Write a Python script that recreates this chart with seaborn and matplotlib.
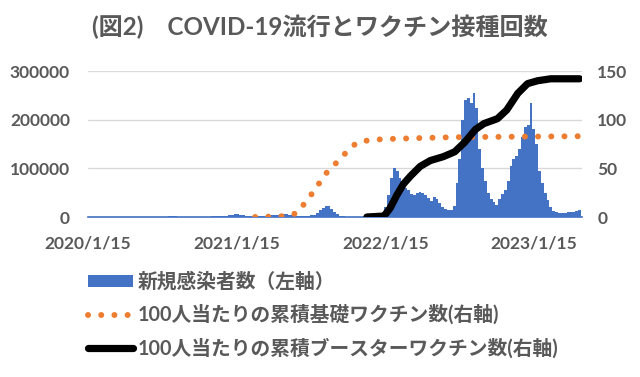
import pandas as pd
import matplotlib
matplotlib.use("Agg")
import matplotlib.pyplot as plt
from matplotlib.patches import Patch
from matplotlib.lines import Line2D
import seaborn as sns

# ── Data ────────────────────────────────────────────────────────────────────
# new infections, one value per week, weeks starting 2020-01-16
case_start = "2020-01-16"
cases_2020 = [1, 2, 3, 3, 5, 10, 15, 30, 40, 40, 100, 250, 500, 550, 350, 200,
              100, 50, 30, 30, 40, 50, 60, 90, 150, 300, 550, 800, 1200,
              1400, 1100, 900, 700, 550, 550, 500, 450, 500, 550, 550, 600, 650,
              900, 1500, 2200, 2300, 2400, 2700, 2900, 3400, 4200]
cases_2021 = [6500, 6000, 4500, 3200, 2200, 1600, 1300, 1100, 1100, 1200, 1400, 1800,
              2500, 3400, 4200, 5000, 5200, 5500, 6000, 5000, 3700, 2800, 2000, 1600, 1600,
              1800, 2300, 3200, 5000, 9000, 14000, 18000, 23000, 22000,
              17000, 11000, 5500, 3000, 1500, 800, 500, 300, 250,
              200, 160, 130, 120, 120, 130, 170, 250, 400]
cases_2022 = [5000, 20000, 45000, 80000, 100000, 95000, 80000, 68000,
              60000, 55000, 48000, 45000, 50000, 52000, 50000, 46000, 40000,
              32000, 42000, 36000, 28000, 20000, 16000, 14000, 14000, 22000,
              70000, 120000, 200000, 240000, 245000, 235000, 255000, 225000,
              140000, 100000, 75000, 50000, 38000, 30000, 25000, 38000, 48000,
              55000, 75000, 105000, 120000, 125000, 140000, 165000, 185000, 190000]
cases_2023 = [235000, 180000, 150000, 95000, 70000, 50000, 35000, 20000,
              13000, 10000, 9000, 8500, 9000, 9500, 10000, 11000, 12000, 14000]
cases = cases_2020 + cases_2021 + cases_2022 + cases_2023

# cumulative primary vaccinations per 100 people
basic_dates = ["2021-03-01", "2021-04-19", "2021-05-16", "2021-06-12", "2021-06-27",
               "2021-07-12", "2021-07-29", "2021-08-10", "2021-08-25", "2021-09-14",
               "2021-10-01", "2021-10-18", "2021-11-09", "2021-12-09", "2022-01-10",
               "2022-04-01", "2022-07-01", "2023-05-08"]
basic_per100 = [0, 0.5, 1, 4, 12, 20.5, 29, 38, 46, 54.5,
                61.5, 70, 77, 79, 80, 81, 82, 83]

# cumulative booster vaccinations per 100 people
booster_dates = ["2021-12-01", "2022-01-12", "2022-01-27", "2022-02-12", "2022-03-01",
                 "2022-03-18", "2022-04-11", "2022-05-06", "2022-06-07", "2022-07-05",
                 "2022-07-30", "2022-08-25", "2022-09-15", "2022-10-18", "2022-11-10",
                 "2022-12-07", "2022-12-31", "2023-01-25", "2023-02-26", "2023-05-08"]
booster_per100 = [0, 1, 9, 22, 34, 42, 52, 58, 62, 67,
                  77, 90, 96, 101, 110, 127, 137, 140, 142, 142]

tick_dates = ["2020-01-15", "2021-01-15", "2022-01-15", "2023-01-15"]
tick_labels = ["2020/1/15", "2021/1/15", "2022/1/15", "2023/1/15"]
left_ticks = [0, 100000, 200000, 300000]
right_ticks = [0, 50, 100, 150]

title = "(図2)　COVID-19流行とワクチン接種回数"
legend_labels = ["新規感染者数（左軸）",
                 "100人当たりの累積基礎ワクチン数(右軸)",
                 "100人当たりの累積ブースターワクチン数(右軸)"]

# ── Style ───────────────────────────────────────────────────────────────────
sns.set_theme(style="white")
plt.rcParams['font.family'] = ['Lato', 'Noto Sans CJK JP']
plt.rcParams['font.weight'] = 'bold'
GRAY = '#595959'
BLUE = '#4472C4'
ORANGE = '#ED7D31'
DOTS = (0, (0.01, 2.2))

fig = plt.figure(figsize=(6.4, 3.77), dpi=100)
fig.patch.set_facecolor('white')
ax = fig.add_axes([88 / 640, 160 / 377, 494 / 640, 146 / 377])

# bars: weekly new cases
weeks = pd.date_range(case_start, periods=len(cases), freq="7D")
ax.bar(weeks, cases, width=7, align='edge', color=BLUE, linewidth=0, zorder=2)
ax.set_ylim(0, 300000)
ax.set_yticks(left_ticks)
ax.set_yticklabels([str(v) for v in left_ticks])
ax.yaxis.grid(True, color='#D9D9D9', lw=1)
ax.set_axisbelow(True)
for s in ['top', 'left', 'right']:
    ax.spines[s].set_visible(False)
ax.spines['bottom'].set_color(BLUE)
ax.spines['bottom'].set_linewidth(1.2)
ax.tick_params(axis='y', length=0, pad=13, labelsize=12.5, labelcolor=GRAY)
ax.tick_params(axis='x', length=3, color='#BFBFBF', pad=10, labelsize=12.5, labelcolor=GRAY)

# lines: vaccinations on right axis
ax2 = ax.twinx()
sns.lineplot(x=pd.to_datetime(basic_dates), y=basic_per100, ax=ax2,
             color=ORANGE, lw=4.3)
ax2.lines[-1].set_linestyle(DOTS)
ax2.lines[-1].set_dash_capstyle('round')
sns.lineplot(x=pd.to_datetime(booster_dates), y=booster_per100, ax=ax2,
             color='black', lw=5.2)
ax2.set_ylim(0, 150)
ax2.set_yticks(right_ticks)
ax2.grid(False)
for s in ax2.spines.values():
    s.set_visible(False)
ax2.tick_params(axis='y', length=0, pad=11, labelsize=12.5, labelcolor=GRAY)
ax2.set_xlabel('')
ax2.set_ylabel('')

ax.set_xlim(pd.Timestamp("2020-01-15"), pd.Timestamp("2023-05-14"))
ax.set_xticks(pd.to_datetime(tick_dates))
ax.set_xticklabels(tick_labels)

fig.text(0.5, 1 - 27 / 377, title, ha='center', va='center',
         fontsize=17.4, color=GRAY, fontweight='bold')

handles = [Patch(facecolor=BLUE, edgecolor='none'),
           Line2D([], [], color=ORANGE, lw=4.3, linestyle=DOTS, dash_capstyle='round'),
           Line2D([], [], color='black', lw=5.2, solid_capstyle='round')]
fig.legend(handles, legend_labels, loc='upper left',
           bbox_to_anchor=(88 / 640, 1 - 272 / 377), frameon=False,
           fontsize=14.2, handlelength=2.3, handleheight=0.55, handletextpad=0.2,
           labelspacing=0.65, borderpad=0, borderaxespad=0, labelcolor=GRAY)

plt.savefig('out.png', dpi=100, facecolor='white')
